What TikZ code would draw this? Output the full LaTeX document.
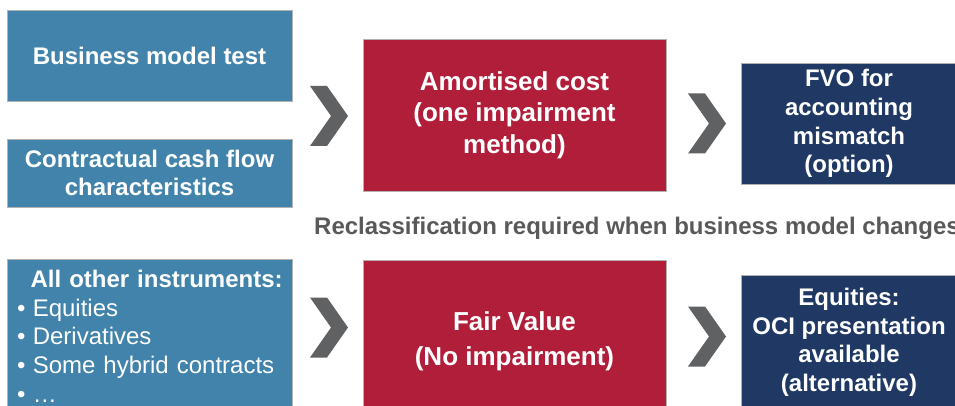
\documentclass[tikz,border=0pt]{standalone}
\usepackage{fontspec}
\setmainfont{Liberation Sans}
\definecolor{modelblue}{HTML}{4183AA}
\definecolor{costred}{HTML}{B01E3A}
\definecolor{optnavy}{HTML}{1F3864}
\definecolor{chevgrey}{HTML}{606163}
\definecolor{notegrey}{HTML}{595959}
\newcommand\instr[1]{{\mdseries\makebox[15.6pt][l]{•}#1}}
\tikzset{
  box/.style={draw=gray!60, line width=0.8pt, text=white, align=center, inner sep=0pt,
    font=\bfseries\fontsize{24}{28.8}\selectfont},
  bluebox/.style={box, fill=modelblue},
  redbox/.style={box, fill=costred, font=\bfseries\fontsize{26}{31.7}\selectfont},
  navybox/.style={box, fill=optnavy},
  chev/.pic={\fill[chevgrey] (-19,-30) -- (-2,-30) -- (19,0) -- (-2,30) -- (-19,30) -- (2,0) -- cycle;}
}
\begin{document}
\begin{tikzpicture}[x=1pt, y=-1pt]
    \useasboundingbox (0,0) rectangle (955,406);
    \clip (0,0) rectangle (955,406);
    % upper row
    \node[bluebox, minimum width=285pt, minimum height=91pt] (bmtest) at (149.5,55.5) {Business model test};
    \node[bluebox, minimum width=285pt, minimum height=68pt] (cashflow) at (149.5,173) {Contractual cash flow\\characteristics};
    \node[redbox, minimum width=303pt, minimum height=152pt] (amort) at (514.5,115) {Amortised cost\\(one impairment\\method)};
    \node[navybox, minimum width=216pt, minimum height=121pt] (fvo) at (849,123.5) {FVO for\\accounting\\mismatch\\(option)};
    \pic (chevA) at (329,116) {chev};
    \pic (chevB) at (707,123.5) {chev};
    \node[font=\bfseries\fontsize{24}{28.8}\selectfont, text=notegrey, anchor=base west, inner sep=0pt] (reclass) at (314,234) {Reclassification required when business model changes};
    % lower row
    \node[bluebox, anchor=north west, align=left, inner xsep=9.8pt, inner ysep=10.5pt, text width=265.4pt] (others) at (7,259)
      {\hspace*{\fill}All other instruments:\hspace*{\fill}\\
       \instr{Equities}\\
       \instr{Derivatives}\\
       \instr{Some hybrid contracts}\\
       \instr{…}};
    \node[redbox, font=\bfseries\fontsize{26}{35}\selectfont, minimum width=303pt, minimum height=162pt] (fairval) at (514.5,341) {Fair Value\\(No impairment)};
    \node[navybox, minimum width=216pt, minimum height=134.5pt] (oci) at (849,342.2) {Equities:\\OCI presentation\\available\\(alternative)};
    \pic (chevC) at (329,327.5) {chev};
    \pic (chevD) at (707,336.5) {chev};
\end{tikzpicture}
\end{document}
